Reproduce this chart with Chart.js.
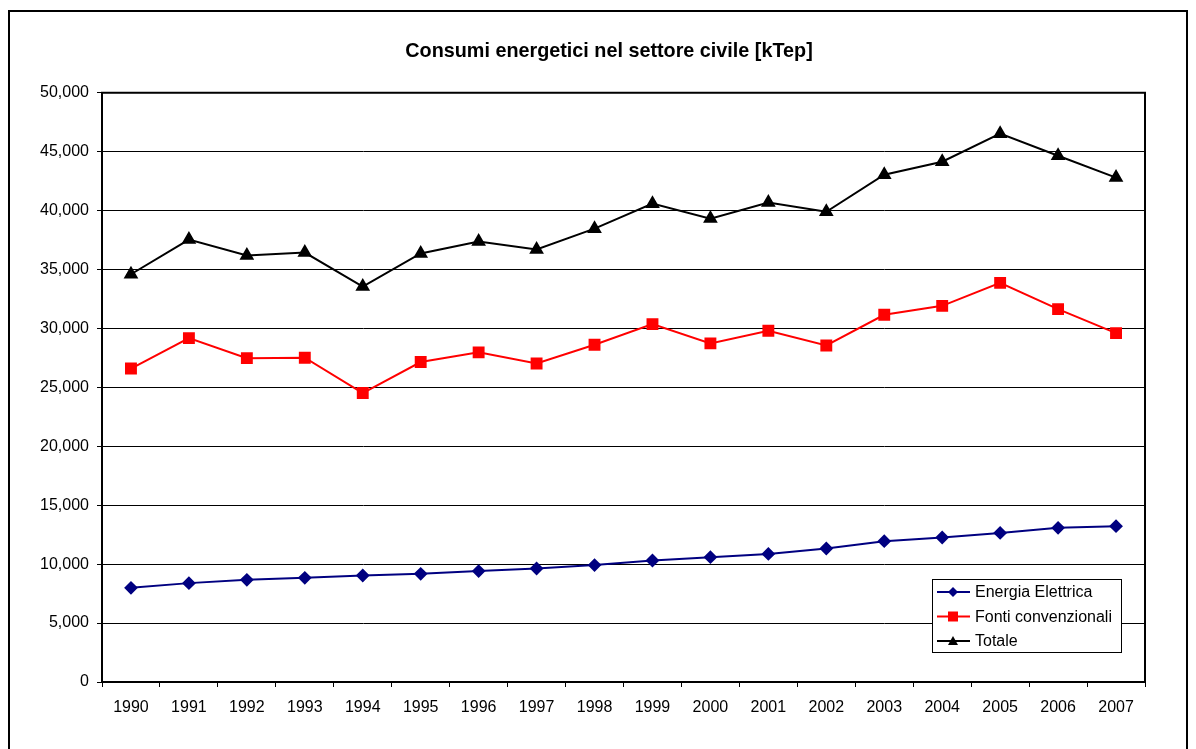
<!DOCTYPE html>
<html>
<head>
<meta charset="utf-8">
<script src="https://cdn.jsdelivr.net/npm/chart.js@4/dist/chart.umd.min.js"></script>
<style>
  html, body { margin: 0; padding: 0; background: #fff; }
  #consumi { position: absolute; left: 0; top: 0; }
</style>
</head>
<body>
<canvas id="consumi" width="1196" height="749"></canvas>
<script>
const anni = ['1990','1991','1992','1993','1994','1995','1996','1997','1998','1999','2000','2001','2002','2003','2004','2005','2006','2007'];
const energiaElettrica = [7990, 8390, 8670, 8840, 9040, 9180, 9410, 9630, 9920, 10310, 10590, 10870, 11330, 11950, 12260, 12650, 13080, 13220];
const fontiConvenzionali = [26600, 29180, 27480, 27520, 24520, 27150, 27970, 27030, 28620, 30370, 28730, 29800, 28560, 31160, 31920, 33870, 31640, 29600];
const totale = [34600, 37540, 36190, 36440, 33560, 36360, 37370, 36700, 38470, 40590, 39320, 40680, 39900, 43050, 44150, 46530, 44660, 42800];
const yTicks = [0, 5000, 10000, 15000, 20000, 25000, 30000, 35000, 40000, 45000, 50000];

const FONT = 'Liberation Sans, Arial, sans-serif';

// cornice esterna, bordo area del grafico e legenda interna
const cornice = {
  id: 'cornice',
  beforeDraw(chart) {
    const ctx = chart.ctx;
    ctx.save();
    ctx.fillStyle = '#fff';
    ctx.fillRect(0, 0, chart.width, chart.height);
    ctx.strokeStyle = '#000';
    ctx.lineWidth = 2;
    ctx.strokeRect(9, 11, 1178, 760);
    ctx.restore();
  },
  afterDatasetsDraw(chart) {
    const ctx = chart.ctx;
    const a = chart.chartArea;
    ctx.save();
    ctx.strokeStyle = '#000';
    ctx.lineWidth = 2;
    ctx.strokeRect(a.left, a.top, a.right - a.left, a.bottom - a.top);

    // legenda
    const w = 189, h = 73;
    const x0 = a.right - 24 - w, y0 = a.bottom - 30 - h;
    ctx.fillStyle = '#fff';
    ctx.fillRect(x0, y0, w, h);
    ctx.lineWidth = 1;
    ctx.strokeRect(x0 + 0.5, y0 + 0.5, w, h);
    ctx.font = '16px ' + FONT;
    ctx.textBaseline = 'middle';
    chart.data.datasets.forEach((ds, i) => {
      const cy = y0 + 13 + i * 24.5;
      ctx.strokeStyle = ds.borderColor;
      ctx.lineWidth = 2;
      ctx.beginPath();
      ctx.moveTo(x0 + 5, cy);
      ctx.lineTo(x0 + 38, cy);
      ctx.stroke();
      const mx = x0 + 21;
      ctx.fillStyle = ds.backgroundColor;
      ctx.beginPath();
      if (ds.pointStyle === 'rectRot') {
        ctx.moveTo(mx, cy - 5); ctx.lineTo(mx + 5, cy); ctx.lineTo(mx, cy + 5); ctx.lineTo(mx - 5, cy);
      } else if (ds.pointStyle === 'rect') {
        ctx.rect(mx - 5, cy - 5, 10, 10);
      } else {
        ctx.moveTo(mx, cy - 5); ctx.lineTo(mx + 5, cy + 4); ctx.lineTo(mx - 5, cy + 4);
      }
      ctx.closePath();
      ctx.fill();
      ctx.fillStyle = '#000';
      ctx.fillText(ds.label, x0 + 43, cy + 1);
    });
    ctx.restore();
  }
};

new Chart('consumi', {
  type: 'line',
  data: {
    labels: anni,
    datasets: [
      {
        label: 'Energia Elettrica',
        data: energiaElettrica,
        borderColor: '#000080',
        backgroundColor: '#000080',
        pointStyle: 'rectRot',
        pointRadius: 5.5,
        borderWidth: 2
      },
      {
        label: 'Fonti convenzionali',
        data: fontiConvenzionali,
        borderColor: '#ff0000',
        backgroundColor: '#ff0000',
        pointStyle: 'rect',
        pointRadius: 7,
        borderWidth: 2
      },
      {
        label: 'Totale',
        data: totale,
        borderColor: '#000000',
        backgroundColor: '#000000',
        pointStyle: 'triangle',
        pointRadius: 6.5,
        borderWidth: 2
      }
    ]
  },
  options: {
    responsive: false,
    animation: false,
    events: [],
    layout: { padding: { left: 22, right: 0, top: 0, bottom: 0 } },
    plugins: {
      legend: { display: false },
      tooltip: { enabled: false },
      title: {
        display: true,
        text: 'Consumi energetici nel settore civile [kTep]',
        color: '#000',
        font: { family: FONT, size: 19.8, weight: 'bold' },
        padding: { top: 40, bottom: 29 }
      }
    },
    elements: { line: { tension: 0 }, point: { borderWidth: 0 } },
    scales: {
      x: {
        offset: true,
        grid: { offset: true, drawOnChartArea: false, color: '#000', tickLength: 5, lineWidth: 1 },
        border: { color: '#000', width: 2 },
        ticks: { color: '#000', font: { family: FONT, size: 16 }, padding: 11, maxRotation: 0, autoSkip: false },
        afterFit(scale) { scale.height = 67; }
      },
      y: {
        min: 0,
        max: 50000,
        afterBuildTicks(scale) { scale.ticks = yTicks.map(v => ({ value: v })); },
        grid: { color: '#000', tickLength: 5, lineWidth: 1 },
        border: { color: '#000', width: 2 },
        ticks: {
          color: '#000',
          font: { family: FONT, size: 16 },
          padding: 8,
          callback: v => v.toLocaleString('en-US')
        },
        afterFit(scale) { scale.width = 80; }
      },
      // spazio vuoto a destra dell'area del grafico
      margineDx: {
        type: 'linear',
        position: 'right',
        display: true,
        grid: { display: false },
        border: { display: false },
        ticks: { display: false },
        afterFit(scale) { scale.width = 51; }
      }
    }
  },
  plugins: [cornice]
});
</script>
</body>
</html>
